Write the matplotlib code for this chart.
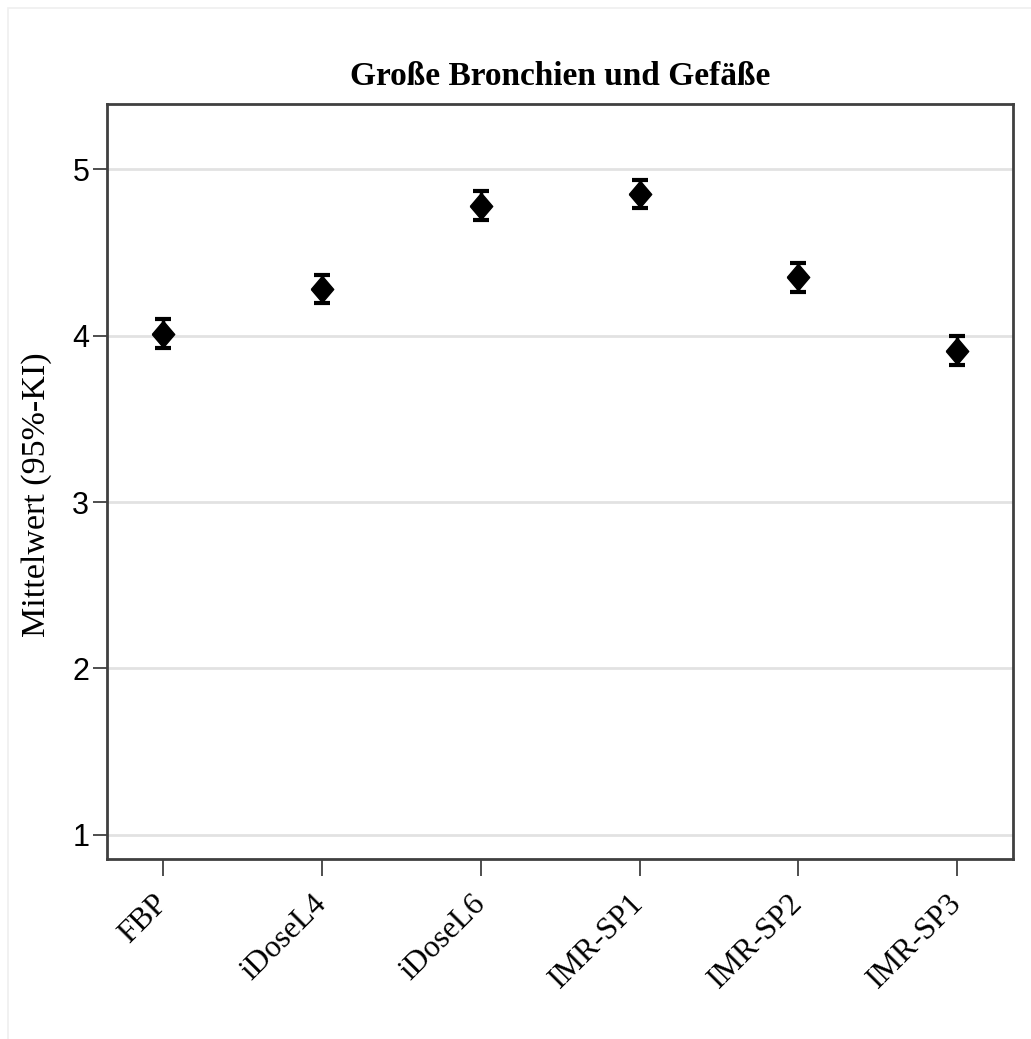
import numpy as np
import matplotlib
matplotlib.use('Agg')
import matplotlib.pyplot as plt
from matplotlib.patches import Rectangle

# data
groups = ['FBP', 'iDoseL4', 'iDoseL6', 'IMR-SP1', 'IMR-SP2', 'IMR-SP3']
means = [4.01, 4.28, 4.78, 4.85, 4.35, 3.91]
ci_half = [0.087, 0.083, 0.087, 0.086, 0.086, 0.085]
yticks = [1, 2, 3, 4, 5]

serif = ['Liberation Serif', 'DejaVu Serif']
sans = ['Liberation Sans', 'DejaVu Sans']

fig = plt.figure(figsize=(10.31, 10.39), dpi=100)
ax = fig.add_axes([107.3 / 1031, 1 - 859 / 1039,
                   (1013.3 - 107.3) / 1031, (859 - 104.3) / 1039])

# faint outer border (left / top visible)
fig.add_artist(Rectangle((8 / 1031, -0.1), 1.2, 1 - 8 / 1039 + 0.1,
                         transform=fig.transFigure, fill=False,
                         edgecolor='#efefef', linewidth=1.2))

x = np.arange(1, len(groups) + 1)
diamond = [(-0.85, 0), (0, 1), (0.85, 0), (0, -1), (-0.85, 0)]
ax.errorbar(x, means, yerr=ci_half, fmt='none', ecolor='black',
            elinewidth=2.5, capsize=6, capthick=3, zorder=3)
ax.plot(x, means, linestyle='none', marker=diamond, markersize=19,
        color='black', zorder=4)

ax.set_xlim(0.647, 6.353)
ax.set_ylim(0.855, 5.39)
ax.set_yticks(yticks)
ax.set_xticks(x)
ax.yaxis.grid(True, color='#e2e2e2', linewidth=2)
ax.set_axisbelow(True)

for s in ax.spines.values():
    s.set_color('#404040')
    s.set_linewidth(2)

ax.tick_params(axis='y', length=10, width=1.3, color='#404040', pad=3)
ax.tick_params(axis='x', length=12, width=1.3, color='#404040', pad=17)

ax.set_yticklabels([str(v) for v in yticks], fontsize=22, family=sans)
ax.set_xticklabels(groups, rotation=45, ha='right', va='center',
                   rotation_mode='anchor', fontsize=22.5, family=serif)

ax.set_ylabel('Mittelwert (95%-KI)', fontsize=24.5, family=serif)
ax.yaxis.set_label_coords(-0.061, 0.483)
ax.set_title('Große Bronchien und Gefäße', fontsize=24, family=serif,
             fontweight='bold', pad=14)

fig.savefig('out.png', dpi=100, facecolor='white')
